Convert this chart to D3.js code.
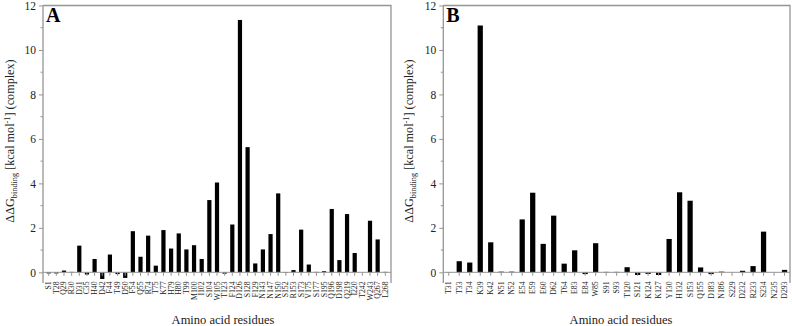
<!DOCTYPE html>
<html><head><meta charset="utf-8">
<script src="https://cdn.jsdelivr.net/npm/d3@7"></script>
<style>body{margin:0;background:#fff}svg{display:block}</style>
</head><body>
<svg id="c" width="792" height="326"></svg>
<script>
const residuesA = ["S1","T28","Q29","R30","D31","C35","H40","D42","F44","T49","D50","F54","Q55","R74","T75","K77","H79","H80","T99","M100","I102","S104","W105","T123","F124","D126","S128","F129","N143","N147","N150","S152","R153","S173","V175","S177","S195","Q196","D198","Q219","I220","T242","W243","Q267","L268"];
const valuesA = [-0.05,-0.05,0.08,0.02,1.2,-0.1,0.6,-0.3,0.8,-0.08,-0.25,1.85,0.7,1.65,0.3,1.9,1.07,1.75,1.03,1.22,0.6,3.25,4.04,-0.06,2.15,11.35,5.63,0.4,1.03,1.72,3.55,-0.02,0.1,1.92,0.35,0.02,0.05,2.85,0.55,2.62,0.87,0,2.32,1.48,0.02];
const residuesB = ["T31","T33","T34","K39","K42","N51","N52","E54","E59","E60","D62","T64","E83","E84","W85","S91","S93","T120","S121","K124","K127","Y130","H132","S153","Q155","D183","N186","S229","D232","R233","S234","N235","D293"];
const valuesB = [0.01,0.5,0.44,11.1,1.35,0.03,0.03,2.38,3.58,1.28,2.55,0.39,0.99,-0.08,1.31,0.02,0.02,0.23,-0.12,-0.07,-0.12,1.5,3.6,3.22,0.22,-0.08,0.03,0,0.07,0.28,1.83,0,0.11];
const yTicks = [0,2,4,6,8,10,12];
const yMinor = [1,3,5,7,9,11];
const panelLabels = ["A","B"];
const xTitle = "Amino acid residues";

const svg = d3.select("#c");
const font = "'Liberation Serif','Times New Roman',serif";
const gray = "#959595";

function panel(cfg){
  const {x0,x1,cats,vals,letter,pi,po,ylabX,titleX} = cfg;
  const top = 5.5, bottom = 283;
  const y = d3.scaleLinear().domain([-0.48,12]).range([bottom, top]);
  const x = d3.scaleBand().domain(cats).range([x0,x1]).paddingInner(pi).paddingOuter(po);
  const g = svg.append("g");
  g.append("path").attr("d",`M${x0},${top}H${x1}V${bottom}`).attr("fill","none").attr("stroke",gray).attr("stroke-width",1.3);
  const ya = d3.axisLeft(y).tickValues(yTicks).tickSize(4).tickPadding(3).tickFormat(d3.format("d"));
  const yg = g.append("g").attr("transform",`translate(${x0},0)`).call(ya);
  yg.select(".domain").attr("d",`M0,${top}V${bottom}`).attr("stroke",gray).attr("stroke-width",1.3);
  yg.selectAll(".tick line").attr("stroke",gray);
  yg.selectAll(".tick text").attr("font-family",font).attr("font-size",11.5).attr("fill","#222");
  g.selectAll(".minor").data(yMinor).join("line").attr("x1",x0-2.5).attr("x2",x0).attr("y1",d=>y(d)).attr("y2",d=>y(d)).attr("stroke",gray);
  g.selectAll(".bar").data(vals).join("rect")
    .attr("x",(d,i)=>x(cats[i])).attr("width",x.bandwidth())
    .attr("y",d=>y(Math.max(0,d))).attr("height",d=>Math.abs(y(d)-y(0)))
    .attr("fill","#000");
  const xa = d3.axisBottom(x).tickSize(3.5).tickPadding(5);
  const xg = g.append("g").attr("transform",`translate(0,${y(0)})`).call(xa);
  xg.select(".domain").attr("d",`M${x0},0H${x1}`).attr("stroke",gray);
  xg.selectAll(".tick line").attr("stroke",gray);
  xg.selectAll(".tick text").attr("font-family",font).attr("font-size",7.8).attr("fill","#222")
    .attr("transform","rotate(-90)").attr("text-anchor","end").attr("dy","0.32em").attr("x",-9).attr("y",0);
  g.append("text").attr("x",x0+3).attr("y",top+16).attr("font-family",font).attr("font-weight","bold").attr("font-size",20).text(letter);
  g.append("text").attr("x",titleX).attr("y",324).attr("text-anchor","middle").attr("font-family",font).attr("font-size",12.5).attr("fill","#222").text(xTitle);
  const t = g.append("text").attr("transform",`translate(${ylabX},141) rotate(-90)`).attr("text-anchor","middle")
    .attr("font-family",font).attr("font-size",12.2).attr("fill","#222");
  t.append("tspan").text("ΔΔG");
  t.append("tspan").attr("font-size",8.3).attr("dy",3).text("binding");
  t.append("tspan").attr("dy",-3).text(" [kcal mol");
  t.append("tspan").attr("font-size",8.3).attr("dy",-4.5).text("-1");
  t.append("tspan").attr("dy",4.5).text("] (complex)");
}
panel({x0:43,x1:391,cats:residuesA,vals:valuesA,letter:panelLabels[0],pi:0.45,po:0.47,ylabX:14,titleX:223});
panel({x0:443.3,x1:790,cats:residuesB,vals:valuesB,letter:panelLabels[1],pi:0.5,po:0.27,ylabX:413,titleX:621});
</script>
</body></html>
